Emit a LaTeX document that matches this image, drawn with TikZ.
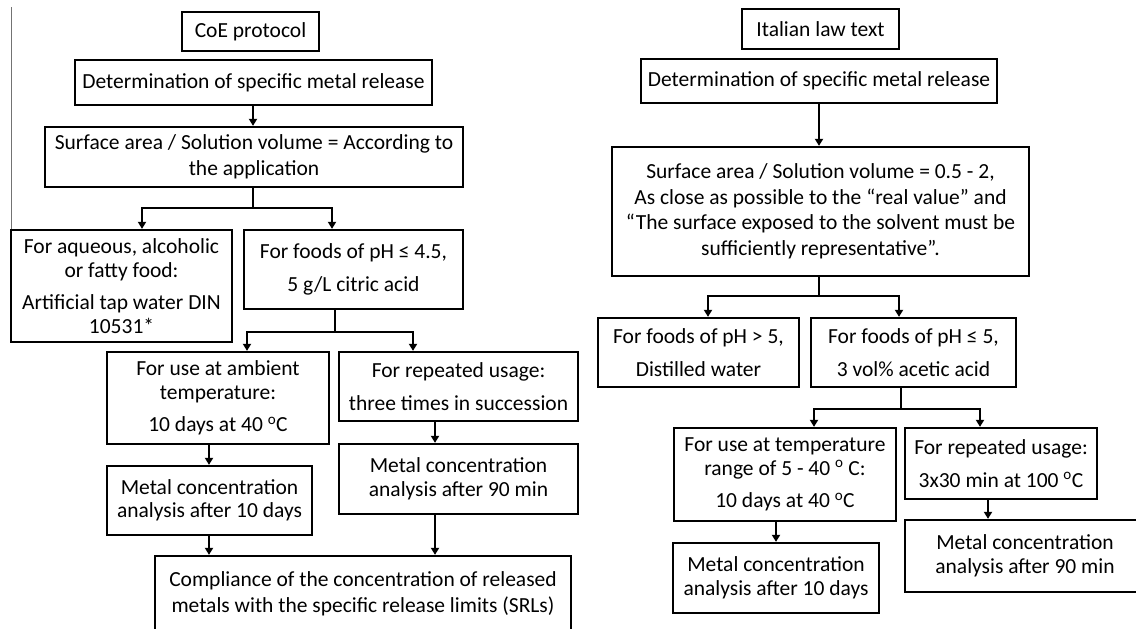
\documentclass[tikz,border=0pt]{standalone}
\usepackage{fontspec}
\setmainfont{Carlito}
\usetikzlibrary{arrows.meta}
\tikzset{
  box/.style={draw=black, line width=2.3pt, rectangle, inner sep=0pt, align=center,
    font=\fontsize{21.5}{23.5}\selectfont},
  widebox/.style={box, font=\fontsize{21.5}{25.5}\selectfont},
  conn/.style={draw=black, line width=2.3pt},
  arr/.style={conn, -{Triangle[length=7pt,width=8pt]}},
}
\newcommand{\dg}{\textsuperscript{o}}
\begin{document}
\begin{tikzpicture}[x=1pt,y=-1pt]
\useasboundingbox (0,0) rectangle (1136,629);
\clip (0,0) rectangle (1136,629);
\fill[white] (0,0) rectangle (1136,629);
% thin line at left
\coordinate (lt) at (11,7);
\coordinate (lb) at (11,230);
\draw[black!55, line width=1pt] (lt) -- (lb);

% ---------- left column ----------
\node[box, minimum width=137pt, minimum height=39pt] (coe) at (250.5,31.5) {CoE protocol};
\node[box, minimum width=357pt, minimum height=45pt] (det1) at (253.5,82.5) {Determination of specific metal release};
\node[widebox, minimum width=418pt, minimum height=60pt] (surf1) at (254,157) {Surface area / Solution volume = According to\\the application};
\node[box, minimum width=221pt, minimum height=112pt] (aq) at (121.5,286) {For aqueous, alcoholic\\or fatty food:\\[9pt]Artificial tap water DIN\\10531*};
\node[box, minimum width=219pt, minimum height=79pt] (ph45) at (353.5,269.5) {For foods of pH ≤ 4.5,\\[9pt]5 g/L citric acid};
\node[box, minimum width=222pt, minimum height=92pt] (amb) at (218,398) {For use at ambient\\temperature:\\[9pt]10 days at 40 \dg C};
\node[box, minimum width=239pt, minimum height=69pt] (rep1) at (458.5,386.5) {For repeated usage:\\[9pt]three times in succession};
\node[box, minimum width=205pt, minimum height=69pt] (m10a) at (209.5,500.5) {Metal concentration\\analysis after 10 days};
\node[box, minimum width=239pt, minimum height=70pt] (m90a) at (458.5,479) {Metal concentration\\analysis after 90 min};
\node[widebox, minimum width=416pt, minimum height=76pt] (comp) at (363,594) {Compliance of the concentration of released\\metals with the specific release limits (SRLs)};

\coordinate (b1) at (253,208);
\coordinate (b1l) at (142,208);
\coordinate (b1r) at (332,208);
\coordinate (b2) at (335,332);
\coordinate (b2l) at (247,332);
\coordinate (b2r) at (413,332);
\coordinate (xa) at (209,0);
\coordinate (xb) at (435,0);

\draw[arr] (det1.south -| b1) -- (surf1.north -| b1);
\draw[conn] (surf1.south -| b1) -- (b1);
\draw[arr] (b1) -| (aq.north -| b1l);
\draw[arr] (b1) -| (ph45.north -| b1r);
\draw[conn] (ph45.south -| b2) -- (b2);
\draw[arr] (b2) -| (amb.north -| b2l);
\draw[arr] (b2) -| (rep1.north -| b2r);
\draw[arr] (amb.south -| xa) -- (m10a.north -| xa);
\draw[arr] (m10a.south -| xa) -- (comp.north -| xa);
\draw[arr] (rep1.south -| xb) -- (m90a.north -| xb);
\draw[arr] (m90a.south -| xb) -- (comp.north -| xb);

% ---------- right column ----------
\node[box, minimum width=157pt, minimum height=40pt] (ital) at (820.5,29) {Italian law text};
\node[box, minimum width=356pt, minimum height=44pt] (det2) at (819,81) {Determination of specific metal release};
\node[widebox, minimum width=417pt, minimum height=129pt] (surf2) at (820.5,211.5) {Surface area / Solution volume = 0.5 - 2,\\As close as possible to the “real value” and\\“The surface exposed to the solvent must be\\sufficiently representative”.};
\node[box, minimum width=201pt, minimum height=69pt] (ph5a) at (698.5,352.5) {For foods of pH > 5,\\[9pt]Distilled water};
\node[box, minimum width=205pt, minimum height=69pt] (ph5b) at (913.5,352.5) {For foods of pH ≤ 5,\\[9pt]3 vol\% acetic acid};
\node[box, minimum width=222pt, minimum height=93pt] (tmp) at (785,474.5) {For use at temperature\\range of 5 - 40 \dg\ C:\\[9pt]10 days at 40 \dg C};
\node[box, minimum width=192pt, minimum height=71pt] (rep2) at (1001,463.5) {For repeated usage:\\[9pt]3x30 min at 100 \dg C};
\node[box, minimum width=206pt, minimum height=70pt] (m10b) at (776,578) {Metal concentration\\analysis after 10 days};
\node[box, minimum width=240pt, minimum height=72pt] (m90b) at (1025,556) {Metal concentration\\analysis after 90 min};

\coordinate (b3) at (819,296);
\coordinate (b3l) at (708,296);
\coordinate (b3r) at (899,296);
\coordinate (b4) at (901,409);
\coordinate (b4l) at (814,409);
\coordinate (b4r) at (980,409);
\coordinate (xc) at (776,0);
\coordinate (xd) at (988,0);

\draw[arr] (det2.south -| b3) -- (surf2.north -| b3);
\draw[conn] (surf2.south -| b3) -- (b3);
\draw[arr] (b3) -| (ph5a.north -| b3l);
\draw[arr] (b3) -| (ph5b.north -| b3r);
\draw[conn] (ph5b.south -| b4) -- (b4);
\draw[arr] (b4) -| (tmp.north -| b4l);
\draw[arr] (b4) -| (rep2.north -| b4r);
\draw[arr] (tmp.south -| xc) -- (m10b.north -| xc);
\draw[arr] (rep2.south -| xd) -- (m90b.north -| xd);
\end{tikzpicture}
\end{document}
